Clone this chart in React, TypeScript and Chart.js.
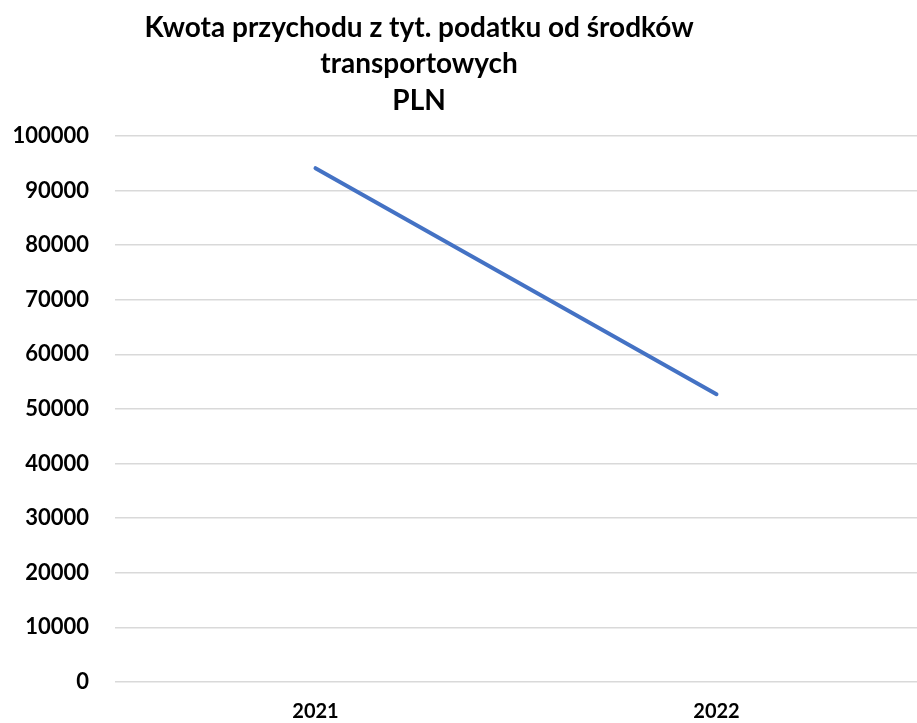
import React, { useEffect, useRef } from "react";
import { Chart, registerables } from "chart.js";

Chart.register(...registerables);

const categories: string[] = ["2021", "2022"];
const revenue: number[] = [94100, 52700];
const titleLines: string[] = [
  "Kwota przychodu z tyt. podatku od środków",
  "transportowych",
  "PLN",
];
const yMin = 0;
const yMax = 100000;
const yStep = 10000;

const FONT = "Lato, 'Open Sans', sans-serif";

const titlePlugin = {
  id: "multiTitle",
  afterDraw(chart: any) {
    const ctx = chart.ctx;
    ctx.save();
    ctx.font = `bold 28px ${FONT}`;
    ctx.fillStyle = "#000000";
    ctx.textAlign = "center";
    ctx.textBaseline = "alphabetic";
    const cx = chart.width * 0.457;
    const baselines = [37, 73, 110];
    titleLines.forEach((t, i) => ctx.fillText(t, cx, baselines[i]));
    ctx.restore();
  },
};

export default function App() {
  const ref = useRef<HTMLCanvasElement | null>(null);
  useEffect(() => {
    if (!ref.current) return;
    const chart = new Chart(ref.current, {
      type: "line",
      data: {
        labels: categories,
        datasets: [
          {
            label: "Kwota",
            data: revenue,
            borderColor: "#4472C4",
            backgroundColor: "#4472C4",
            borderWidth: 4,
            borderCapStyle: "round",
            pointRadius: 0,
            tension: 0,
          },
        ],
      },
      options: {
        animation: false,
        responsive: false,
        maintainAspectRatio: false,
        layout: { padding: { top: 136, right: 0, left: 0, bottom: 0 } },
        plugins: {
          legend: { display: false },
          title: { display: false },
          tooltip: { enabled: false },
        },
        scales: {
          x: {
            offset: true,
            grid: { display: false, drawTicks: false },
            border: { display: false },
            ticks: {
              color: "#000000",
              font: { family: FONT, size: 20, weight: "bold" },
              padding: 18,
            },
            afterFit(scale: any) {
              scale.height = 41;
            },
          },
          y: {
            min: yMin,
            max: yMax,
            grid: { color: "#D9D9D9", lineWidth: 1.5, drawTicks: false },
            border: { display: false },
            ticks: {
              stepSize: yStep,
              color: "#000000",
              font: { family: FONT, size: 22, weight: "bold" },
              padding: 26,
              callback: (v: any) => String(v),
            },
            afterFit(scale: any) {
              scale.width = 115;
            },
          },
        },
      },
      plugins: [titlePlugin],
    });
    return () => chart.destroy();
  }, []);
  return (
    <div style={{ position: "fixed", left: 0, top: 0, width: 917, height: 723, background: "#fff" }}>
      <canvas ref={ref} width={917} height={723} style={{ width: 917, height: 723 }} />
    </div>
  );
}
